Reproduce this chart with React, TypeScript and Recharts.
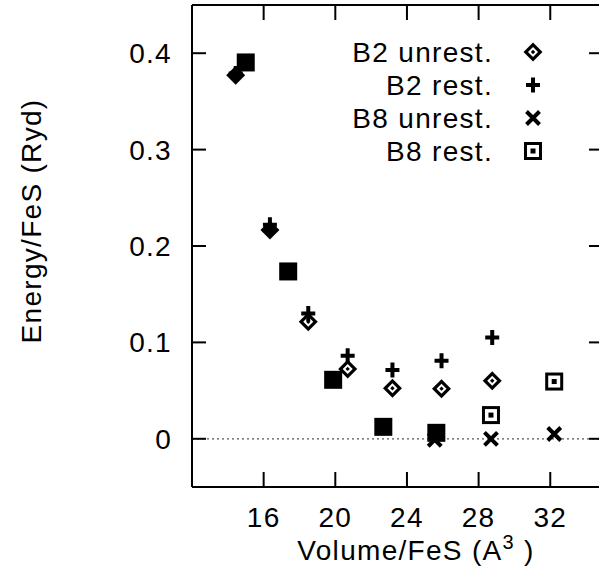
import { ScatterChart, Scatter, XAxis, YAxis, ReferenceLine } from "recharts";

const seriesNames = ["B2 unrest.", "B2 rest.", "B8 unrest.", "B8 rest."];
const markerKinds = ["diamond", "plus", "cross", "square"];

// volume per FeS (A^3) and energy per FeS (Ryd)
const b2UnrestVol = [14.44, 16.35, 18.49, 20.69, 23.19, 25.93, 28.76];
const b2UnrestE = [0.377, 0.2165, 0.1214, 0.0725, 0.0524, 0.052, 0.0602];
const b2RestVol = [14.44, 16.35, 18.49, 20.69, 23.19, 25.93, 28.76];
const b2RestE = [0.379, 0.222, 0.13, 0.0861, 0.0713, 0.081, 0.1051];
const b8UnrestVol = [15.0, 17.37, 19.88, 22.68, 25.55, 28.69, 32.22];
const b8UnrestE = [0.3904, 0.1736, 0.0612, 0.0124, -0.001, 0.0, 0.005];
const b8RestVol = [15.0, 17.37, 19.88, 22.68, 25.64, 28.69, 32.22];
const b8RestE = [0.3904, 0.1736, 0.0612, 0.0124, 0.0062, 0.0246, 0.0594];

const xTicks = [16, 20, 24, 28, 32];
const yTicks = [0, 0.1, 0.2, 0.3, 0.4];
const xDomain = [12, 35];
const yDomain = [-0.05, 0.45];

const toPoints = (vol: number[], e: number[]) => vol.map((v, i) => ({ vol: v, e: e[i] }));
const series = [
  toPoints(b2UnrestVol, b2UnrestE),
  toPoints(b2RestVol, b2RestE),
  toPoints(b8UnrestVol, b8UnrestE),
  toPoints(b8RestVol, b8RestE),
];

// where another symbol sits on top of a point the open symbol looks filled in
const covered = (vol: number[], e: number[], v: number, y: number) =>
  vol.some((vv, i) => Math.abs(vv - v) < 0.15 && Math.abs(e[i] - y) < 0.008);

const font = "'Liberation Sans', Arial, Helvetica, sans-serif";
const FS = 28;
const LS = 1.3;

function Marker({ kind, cx, cy, solid }: { kind: string; cx: number; cy: number; solid?: boolean }) {
  if (cx == null || cy == null) return null;
  if (kind === "diamond") {
    const d = (r: number) => `${cx},${cy - r} ${cx + r},${cy} ${cx},${cy + r} ${cx - r},${cy}`;
    return (
      <g>
        <polygon points={d(9.5)} fill="#000" />
        {!solid && <polygon points={d(5)} fill="#fff" />}
        {!solid && <polygon points={d(2.2)} fill="#000" />}
      </g>
    );
  }
  if (kind === "plus") {
    return <path d={`M${cx - 7},${cy}H${cx + 7}M${cx},${cy - 7.5}V${cy + 7.5}`} stroke="#000" strokeWidth={4} fill="none" />;
  }
  if (kind === "cross") {
    return (
      <path
        d={`M${cx - 6.5},${cy - 6.5}L${cx + 6.5},${cy + 6.5}M${cx - 6.5},${cy + 6.5}L${cx + 6.5},${cy - 6.5}`}
        stroke="#000"
        strokeWidth={4}
        fill="none"
      />
    );
  }
  return (
    <g>
      <rect x={cx - 9} y={cy - 9} width={18} height={18} fill="#000" />
      {!solid && <rect x={cx - 6} y={cy - 6} width={12} height={12} fill="#fff" />}
      {!solid && <rect x={cx - 2.5} y={cy - 2.5} width={5} height={5} fill="#000" />}
    </g>
  );
}

function LeftTick(p: any) {
  return (
    <g>
      <line x1={p.x} x2={p.x + 14} y1={p.y} y2={p.y} stroke="#000" strokeWidth={2} />
      <line x1={p.x + 412 - 15} x2={p.x + 412} y1={p.y} y2={p.y} stroke="#000" strokeWidth={2} />
      <text x={p.x - 20} y={p.y} dy="0.36em" textAnchor="end" fontSize={FS} fontFamily={font} letterSpacing={LS} fill="#000">
        {String(p.payload.value)}
      </text>
    </g>
  );
}

function BottomTick(p: any) {
  return (
    <g>
      <line x1={p.x} x2={p.x} y1={p.y - 15} y2={p.y} stroke="#000" strokeWidth={2} />
      <line x1={p.x} x2={p.x} y1={p.y - 482} y2={p.y - 482 + 15} stroke="#000" strokeWidth={2} />
      <text x={p.x} y={p.y + 40} textAnchor="middle" fontSize={FS} fontFamily={font} letterSpacing={LS} fill="#000">
        {String(p.payload.value)}
      </text>
    </g>
  );
}

function Overlay() {
  return (
    <svg width={599} height={575} style={{ position: "absolute", left: 0, top: 0, pointerEvents: "none" }}>
      {seriesNames.map((name, i) => {
        const y = 52 + i * 33;
        return (
          <g key={name}>
            <text x={493} y={y + 10} textAnchor="end" fontSize={FS} fontFamily={font} letterSpacing={LS} fill="#000">
              {name}
            </text>
            <Marker kind={markerKinds[i]} cx={533} cy={y} />
          </g>
        );
      })}
      <text x={41} y={221} transform="rotate(-90 41 221)" textAnchor="middle" fontSize={FS} fontFamily={font} letterSpacing={LS} fill="#000">
        Energy/FeS (Ryd)
      </text>
      <text x={416} y={560} textAnchor="middle" fontSize={FS} fontFamily={font} letterSpacing={LS} fill="#000">
        Volume/FeS (A
        <tspan dy={-11} fontSize={20}>3</tspan>
        <tspan dy={11}> )</tspan>
      </text>
    </svg>
  );
}

const axisLine = { stroke: "#000", strokeWidth: 2 };

export default function App() {
  const shapeFor = (i: number) => (p: any) => {
    const d = p.payload || {};
    let solid = false;
    if (i === 0) solid = covered(b2RestVol, b2RestE, d.vol, d.e);
    if (i === 3) solid = covered(b8UnrestVol, b8UnrestE, d.vol, d.e);
    return <Marker kind={markerKinds[i]} cx={p.cx} cy={p.cy} solid={solid} />;
  };

  return (
    <div style={{ position: "absolute", left: 0, top: 0, width: 599, height: 575, overflow: "hidden", background: "#fff" }}>
      <ScatterChart width={620} height={575} margin={{ top: 5, right: 16, bottom: 0, left: 0 }}>
        <XAxis
          type="number"
          dataKey="vol"
          domain={xDomain}
          ticks={xTicks}
          height={88}
          tickSize={0}
          tickMargin={0}
          tick={<BottomTick />}
          tickLine={false}
          axisLine={axisLine}
        />
        <YAxis
          type="number"
          dataKey="e"
          domain={yDomain}
          ticks={yTicks}
          width={192}
          tickSize={0}
          tickMargin={0}
          tick={<LeftTick />}
          tickLine={false}
          axisLine={axisLine}
        />
        <ReferenceLine y={0} stroke="#555" strokeWidth={1.2} strokeDasharray="2 3" />
        <ReferenceLine y={yDomain[1]} stroke="#000" strokeWidth={2} />
        {series.map((pts, i) => (
          <Scatter
            key={seriesNames[i]}
            name={seriesNames[i]}
            data={pts}
            fill="#000"
            isAnimationActive={false}
            shape={shapeFor(i)}
          />
        ))}
      </ScatterChart>
      <Overlay />
    </div>
  );
}
